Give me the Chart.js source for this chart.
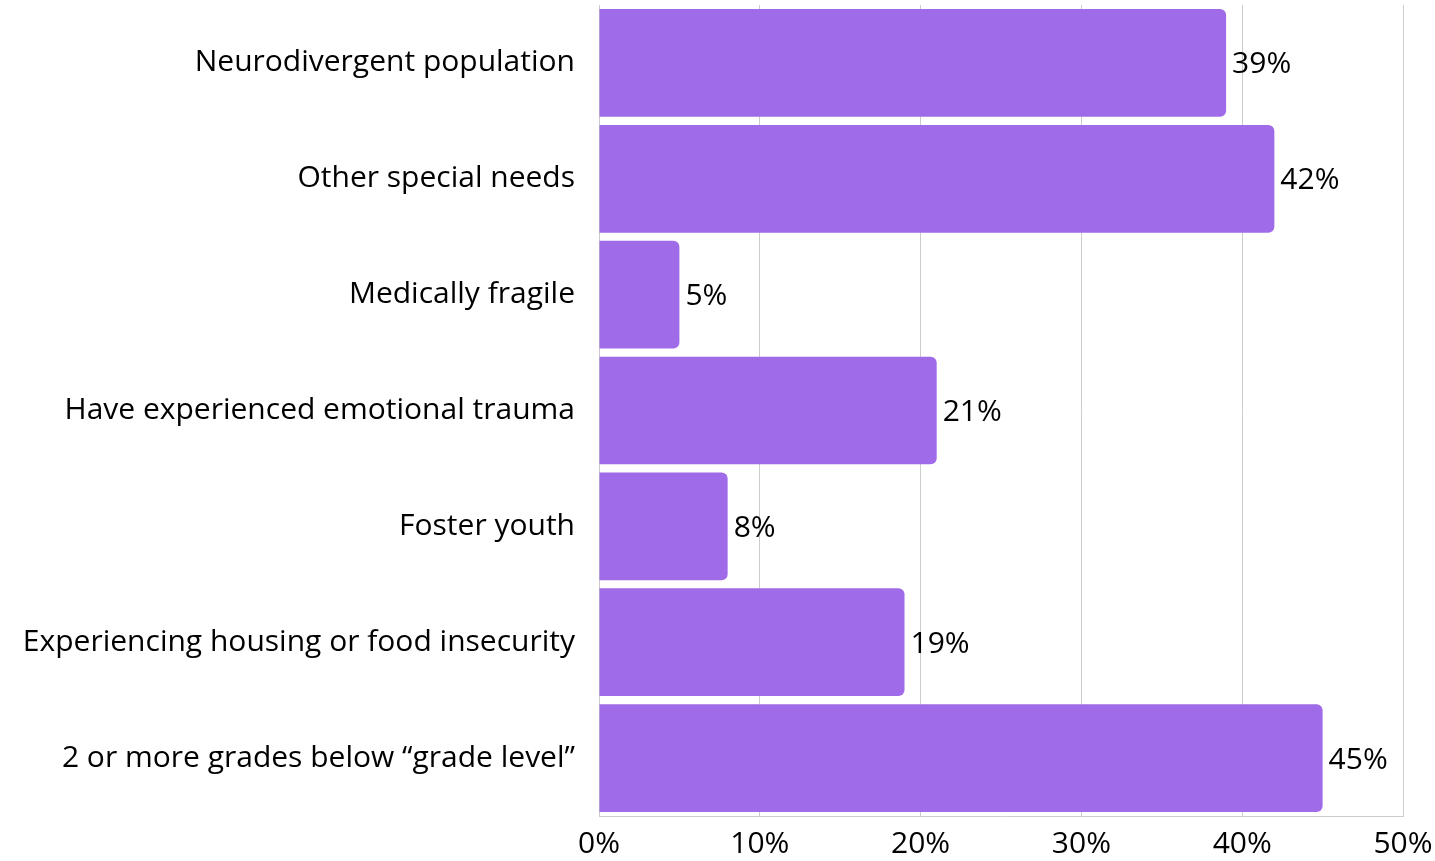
<!DOCTYPE html>
<html>
<head>
<meta charset="utf-8">
<script src="https://cdn.jsdelivr.net/npm/chart.js@4"></script>
<style>
  html, body { margin: 0; padding: 0; background: #ffffff; }
  #wrap { width: 1435px; height: 861px; position: relative; }
</style>
</head>
<body>
<div id="wrap"><canvas id="c" width="1435" height="861"></canvas></div>
<script>
const categories = [
  "Neurodivergent population",
  "Other special needs",
  "Medically fragile",
  "Have experienced emotional trauma",
  "Foster youth",
  "Experiencing housing or food insecurity",
  "2 or more grades below \u201cgrade level\u201d"
];
const values = [39, 42, 5, 21, 8, 19, 45];
const xTicks = [0, 10, 20, 30, 40, 50];

const FONT = "'Open Sans', Lato, sans-serif";
const FSIZE = 30;

const valueLabels = {
  id: 'valueLabels',
  afterDatasetsDraw(chart) {
    const ctx = chart.ctx;
    const meta = chart.getDatasetMeta(0);
    ctx.save();
    ctx.font = FSIZE + "px " + FONT;
    ctx.fillStyle = "#000000";
    ctx.textAlign = "left";
    ctx.textBaseline = "middle";
    meta.data.forEach((bar, i) => {
      ctx.fillText(values[i] + "%", bar.x + 6, bar.y + 2);
    });
    ctx.restore();
  }
};

new Chart(document.getElementById('c'), {
  type: 'bar',
  data: {
    labels: categories,
    datasets: [{
      data: values,
      backgroundColor: '#a06be8',
      borderWidth: 0,
      borderRadius: { topRight: 6, bottomRight: 6, topLeft: 0, bottomLeft: 0 },
      borderSkipped: false,
      barPercentage: 0.93,
      categoryPercentage: 1.0
    }]
  },
  options: {
    indexAxis: 'y',
    responsive: false,
    animation: false,
    devicePixelRatio: 1,
    layout: { padding: { top: 5, right: 32, bottom: 0, left: 0 } },
    plugins: {
      legend: { display: false },
      tooltip: { enabled: false }
    },
    scales: {
      x: {
        min: 0,
        max: 50,
        afterBuildTicks(scale) { scale.ticks = xTicks.map(v => ({ value: v })); },
        afterFit(scale) { scale.paddingLeft = 0; scale.paddingRight = 0; scale.height = 45; },
        ticks: {
          callback: v => v + '%',
          color: '#000000',
          font: { family: FONT, size: FSIZE, lineHeight: 1.2 },
          padding: 10,
          maxRotation: 0
        },
        grid: { color: '#cccccc', lineWidth: 1, drawTicks: false },
        border: { display: true, color: '#cccccc' }
      },
      y: {
        afterFit(scale) { scale.width = 599; scale.paddingTop = 0; scale.paddingBottom = 0; },
        ticks: {
          color: '#000000',
          font: { family: FONT, size: FSIZE, lineHeight: 1.2 },
          padding: 24
        },
        grid: { display: false, drawTicks: false },
        border: { display: true, color: '#cccccc' }
      }
    }
  },
  plugins: [valueLabels]
});
</script>
</body>
</html>
